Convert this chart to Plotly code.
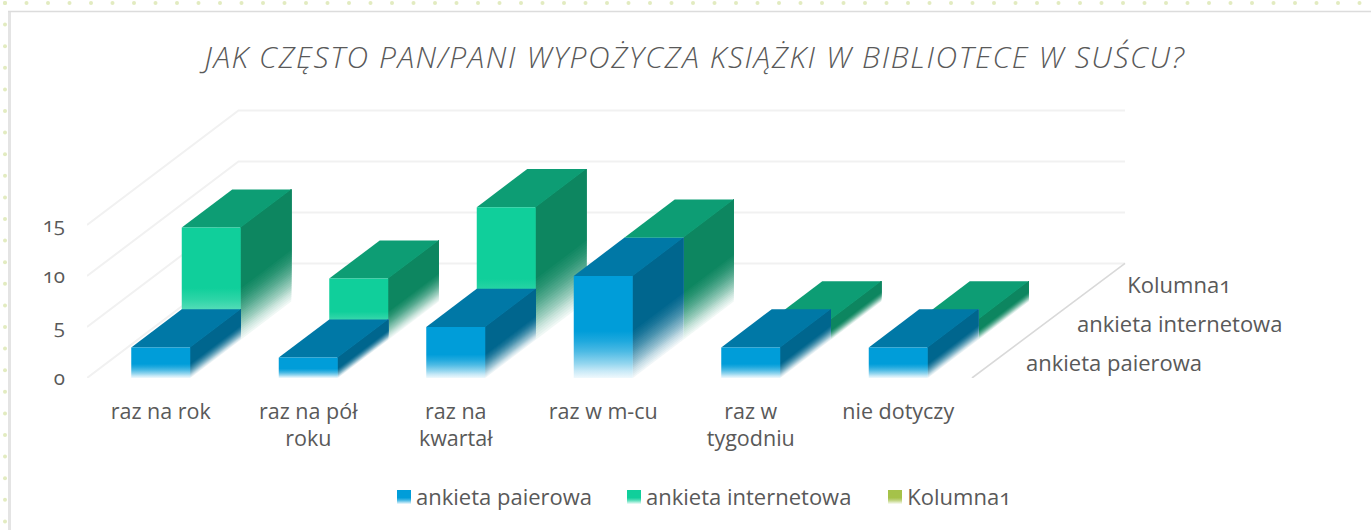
import numpy as np
import plotly.graph_objects as go

title = "JAK CZĘSTO PAN/PANI WYPOŻYCZA KSIĄŻKI W BIBLIOTECE W SUŚCU?"
categories = ["raz na rok", "raz na pół<br>roku", "raz na<br>kwartał", "raz w m-cu", "raz w<br>tygodniu", "nie dotyczy"]
series_names = ["ankieta paierowa", "ankieta internetowa", "Kolumna1"]
paper_values = [3, 2, 5, 10, 3, 3]
internet_values = [11, 6, 13, 10, 2, 2]
kolumna_values = [None, None, None, None, None, None]
y_ticks = [0, 5, 10, 15]

FONT = "Open Sans"
TXT = "#595959"
W, H = 1371, 530
X0, X1, Y0, Y1 = 87, 1340, 378, 100   # plot box in pixels
CAT = 147.5
UNIT = 10.2
DX = 50.5 / CAT      # depth of a series slot, in category units
DY = 38.2 / UNIT     # depth of a series slot, in value units
BAR_L, BAR_R = 0.3, 0.7

COL = {
    0: dict(front=(0, 157, 217), top=(0, 120, 166), side=(0, 102, 142)),
    1: dict(front=(16, 207, 155), top=(13, 157, 116), side=(13, 134, 96)),
}
LEGEND_RGB = [(0, 157, 217), (16, 207, 155), (165, 194, 73)]
FADE = [(0.0, 0.06), (0.07, 0.22), (0.14, 0.42), (0.26, 0.70), (0.36, 0.88), (0.46, 1.0), (1.0, 1.0)]


def alpha_at(t):
    return float(np.interp(t, [a for a, _ in FADE], [b for _, b in FADE]))


def blend(rgb, a):
    return "rgb(%d,%d,%d)" % tuple(round(255 + (c - 255) * a) for c in rgb)


fig = go.Figure()


def poly(xs, ys, color, **kw):
    fig.add_trace(go.Scatter(x=xs + xs[:1], y=ys + ys[:1], mode="lines", fill="toself",
                             fillcolor=color, line=dict(width=0), hoverinfo="skip",
                             showlegend=False, **kw))


def gradient_rect(l, r, b, t, rgb, **kw):
    stops = [[a, blend(rgb, al)] for a, al in FADE]
    fig.add_trace(go.Scatter(x=[l, r, r, l, l], y=[b, b, t, t, b], mode="lines", fill="toself",
                             fillgradient=dict(type="vertical", colorscale=stops),
                             line=dict(width=0), hoverinfo="skip", showlegend=False, **kw))


def line(xs, ys, color, width, **kw):
    fig.add_trace(go.Scatter(x=xs, y=ys, mode="lines", line=dict(color=color, width=width),
                             hoverinfo="skip", showlegend=False, **kw))


# walls and floor lines
back_x = 3 * DX
right_x = 6 + 153 / CAT
for v in y_ticks:
    line([0, back_x, right_x], [v, v + 3 * DY, v + 3 * DY], "#f1f1f1", 2)
line([6, right_x], [0, 3 * DY], "#d9d9d9", 1.6)


def bar(i, k, v):
    c = COL[k]
    l, r = i + BAR_L + k * DX, i + BAR_R + k * DX
    b = k * DY
    t = b + v
    # side face: opaque bands painted bottom-up so that the fade follows the slanted edge
    for f in np.linspace(0, 0.46, 24):
        low = b + f * v
        poly([r, r + DX, r + DX, r], [low, low + DY, t + DY, t], blend(c["side"], alpha_at(f)))
    # top face
    poly([l, r, r + DX, l + DX], [t, t, t + DY, t + DY], blend(c["top"], 1))
    # front face
    gradient_rect(l, r, b, t, c["front"])


for k, vals in [(2, kolumna_values), (1, internet_values), (0, paper_values)]:
    for i, v in enumerate(vals):
        if v is not None:
            bar(i, k, v)

# depth-axis labels
for k, name in enumerate(series_names):
    fig.add_annotation(x=(1024 - X0) / CAT + k * DX, y=1.57 + k * DY, text=name, showarrow=False,
                       xanchor="left", yanchor="middle", yshift=k,
                       font=dict(family=FONT, size=22, color=TXT))

# legend, laid out on the page axes
for name, rgb, sx, tx in zip(series_names, LEGEND_RGB, [397, 627, 888], [414, 644, 905]):
    gradient_rect(sx, sx + 14, 504, 490, rgb, xaxis="x2", yaxis="y2")
    fig.add_annotation(x=tx, y=496, xref="x2", yref="y2", text=name, showarrow=False,
                       xanchor="left", yanchor="middle", font=dict(family=FONT, size=22, color=TXT))

# page decoration: dotted border and thin frame
dots_x = np.arange(5, W, 21.5)
dots_y = np.arange(3, H, 21.6)
fig.add_trace(go.Scatter(x=list(dots_x) + [5] * len(dots_y), y=[3] * len(dots_x) + list(dots_y),
                         mode="markers", marker=dict(size=4, color="#e2ebc0"), hoverinfo="skip",
                         showlegend=False, xaxis="x2", yaxis="y2", cliponaxis=False))
line([9.5, 9.5], [11, H], "#e4e4e4", 3, xaxis="x2", yaxis="y2")
line([8, W], [11.5, 11.5], "#dcdcdc", 1.5, xaxis="x2", yaxis="y2")

fig.update_layout(
    width=W, height=H,
    margin=dict(l=0, r=0, t=0, b=0, autoexpand=False),
    paper_bgcolor="white", plot_bgcolor="rgba(0,0,0,0)", showlegend=False,
    font=dict(family=FONT, size=21, color=TXT),
    title=dict(text="<i>" + title + "</i>", x=695 / W, xanchor="center", y=1 - 57 / H, yanchor="middle",
               xref="container", yref="container", font=dict(family=FONT, size=30, color=TXT, weight=300)),
    xaxis=dict(domain=[X0 / W, X1 / W], range=[0, (X1 - X0) / CAT], tickmode="array",
               tickvals=[i + 0.5 for i in range(6)], ticktext=categories, showgrid=False, zeroline=False,
               showline=False, ticks="", ticklabelstandoff=18, tickfont=dict(family=FONT, size=21.5, color=TXT),
               fixedrange=True),
    yaxis=dict(domain=[1 - Y0 / H, 1 - Y1 / H], range=[0, (Y0 - Y1) / UNIT], tickmode="array",
               tickvals=y_ticks, showgrid=False, zeroline=False, showline=False, ticks="",
               ticklabelstandoff=21, tickfont=dict(family=FONT, size=20.5, color=TXT), fixedrange=True),
    xaxis2=dict(domain=[0, 1], range=[0, W], visible=False, anchor="y2", fixedrange=True),
    yaxis2=dict(domain=[0, 1], range=[H, 0], visible=False, anchor="x2", fixedrange=True),
)

css = ("body{margin:0;overflow:hidden}"
       ".gtitle{letter-spacing:1.6px}"
       "svg text{font-feature-settings:'onum' 1 !important}")
fig.write_html("out.html", config=dict(displayModeBar=False),
               post_script="var s=document.createElement('style');s.textContent=\"%s\";document.head.appendChild(s);" % css)
